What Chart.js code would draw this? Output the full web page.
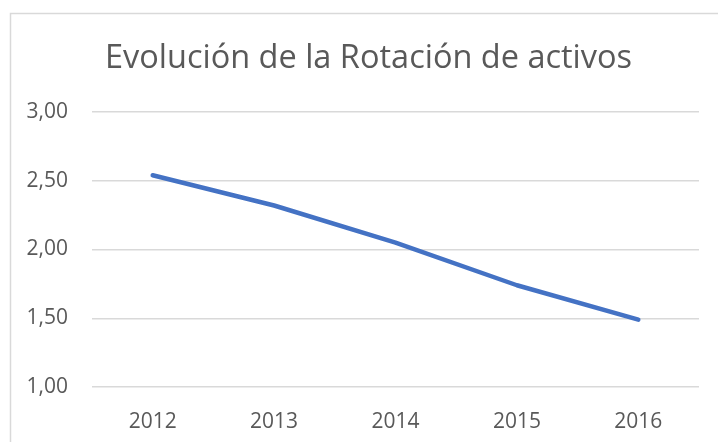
<!DOCTYPE html>
<html>
<head>
<meta charset="utf-8">
<script src="https://cdn.jsdelivr.net/npm/chart.js@4"></script>
<style>
  html, body { margin: 0; padding: 0; background: #fff; }
  #wrap { width: 718px; height: 442px; position: relative; }
</style>
</head>
<body>
<div id="wrap"><canvas id="chart" width="718" height="442"></canvas></div>
<script>
const years = ['2012', '2013', '2014', '2015', '2016'];
const rotacion = [2.54, 2.32, 2.05, 1.74, 1.49];
const yTicks = [1.0, 1.5, 2.0, 2.5, 3.0];
const chartTitle = 'Evolución de la Rotación de activos';

const textColor = '#595959';
const fontFamily = "'Open Sans', sans-serif";

// light frame around the chart plus the title, centred on the whole chart object
const frame = {
    id: 'frame',
    beforeDraw(chart) {
        const ctx = chart.ctx;
        ctx.save();
        ctx.strokeStyle = '#d9d9d9';
        ctx.lineWidth = 1.5;
        ctx.strokeRect(10.5, 13.5, 720, 440);
        ctx.fillStyle = textColor;
        ctx.font = "32.5px " + fontFamily;
        ctx.textAlign = 'center';
        ctx.textBaseline = 'alphabetic';
        ctx.fillText(chartTitle, 368.5, 68);
        ctx.restore();
    }
};

var ctx = document.getElementById('chart').getContext('2d');
var chart = new Chart(ctx, {
    type: 'line',
    data: {
        labels: years,
        datasets: [{
            data: rotacion,
            borderColor: '#4472C4',
            borderWidth: 4.5,
            borderCapStyle: 'round',
            borderJoinStyle: 'round',
            pointRadius: 0,
            tension: 0,
            fill: false
        }]
    },
    options: {
        responsive: false,
        animation: false,
        layout: { padding: { top: 112, right: 19, bottom: 0, left: 0 } },
        plugins: {
            legend: { display: false },
            tooltip: { enabled: false },
            title: { display: false }
        },
        scales: {
            x: {
                offset: true,
                grid: { display: false, drawTicks: false },
                border: { display: false },
                ticks: {
                    color: textColor,
                    font: { family: fontFamily, size: 21 },
                    padding: 22
                },
                afterFit(scale) { scale.height = 55; }
            },
            y: {
                min: 1,
                max: 3,
                afterBuildTicks(scale) {
                    scale.ticks = yTicks.map(v => ({ value: v }));
                },
                grid: { color: '#d9d9d9', lineWidth: 1.5, drawTicks: false },
                border: { display: false },
                ticks: {
                    color: textColor,
                    font: { family: fontFamily, size: 21 },
                    padding: 24,
                    callback: v => v.toFixed(2).replace('.', ',')
                },
                afterFit(scale) { scale.width = 92; }
            }
        }
    },
    plugins: [frame]
});
</script>
</body>
</html>
